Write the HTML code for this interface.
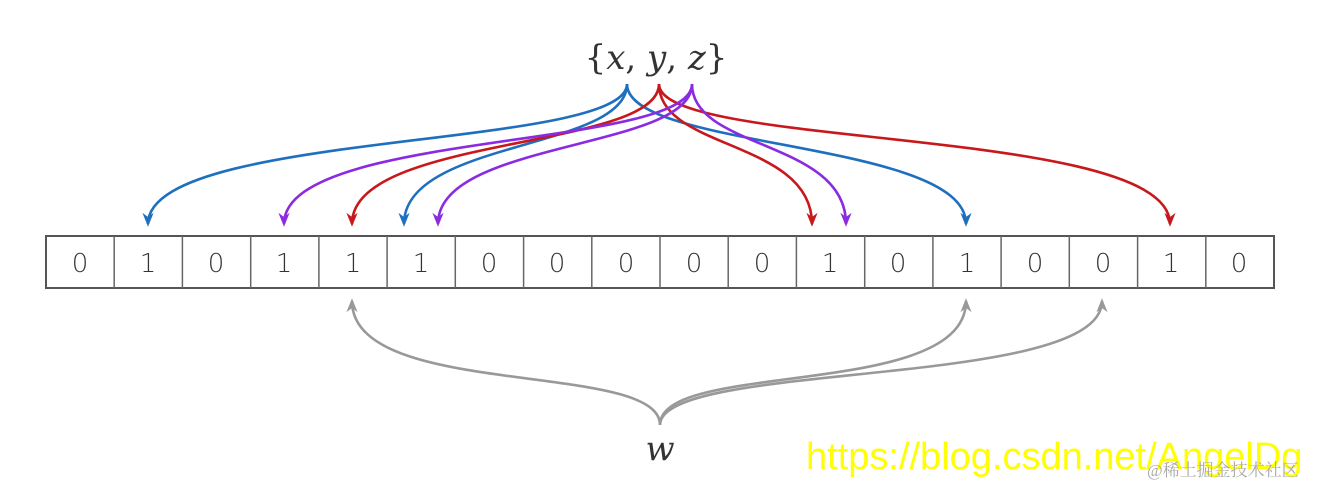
<!DOCTYPE html>
<html><head><style>
body{margin:0;background:#fff;width:1332px;height:487px;overflow:hidden;position:relative}
</style></head><body>
<svg width="1332" height="487" style="position:absolute;left:0;top:0">
<defs>
<marker id="b" markerWidth="14" markerHeight="12" refX="8" refY="4" orient="auto" markerUnits="userSpaceOnUse" viewBox="0 0 10 8"><path d="M0,0 L10,4 L0,8 L3,4 z" fill="#1f6fbf"/></marker>
<marker id="r" markerWidth="14" markerHeight="12" refX="8" refY="4" orient="auto" markerUnits="userSpaceOnUse" viewBox="0 0 10 8"><path d="M0,0 L10,4 L0,8 L3,4 z" fill="#c8181c"/></marker>
<marker id="p" markerWidth="14" markerHeight="12" refX="8" refY="4" orient="auto" markerUnits="userSpaceOnUse" viewBox="0 0 10 8"><path d="M0,0 L10,4 L0,8 L3,4 z" fill="#8a2be2"/></marker>
<marker id="g" markerWidth="14" markerHeight="12" refX="8" refY="4" orient="auto" markerUnits="userSpaceOnUse" viewBox="0 0 10 8"><path d="M0,0 L10,4 L0,8 L3,4 z" fill="#999"/></marker>
</defs>
<g fill="none" stroke-width="2.6">
<g stroke="#1f6fbf" marker-end="url(#b)">
<path d="M627,84 C627,150 148,130 148,224"/>
<path d="M627,84 C627,150 404,140 404,224"/>
<path d="M627,84 C627,150 966,140 966,224"/>
</g>
<g stroke="#c8181c" marker-end="url(#r)">
<path d="M659,84 C659,150 352,135 352,224"/>
<path d="M659,84 C659,150 812,140 812,224"/>
<path d="M659,84 C659,150 1170,125 1170,224"/>
</g>
<g stroke="#8a2be2" marker-end="url(#p)">
<path d="M692,84 C692,150 284,130 284,224"/>
<path d="M692,84 C692,150 438,140 438,224"/>
<path d="M692,84 C692,150 846,140 846,224"/>
</g>
<g stroke="#999" marker-end="url(#g)">
<path d="M660,425 C660,360 352,400 352,301"/>
<path d="M660,425 C660,360 966,400 966,301"/>
<path d="M660,425 C660,360 1102,390 1102,301"/>
</g>
</g>
<g stroke="#555" stroke-width="2" fill="#fff">
<rect x="46" y="236" width="1228" height="52"/>
</g>
<g stroke="#666" stroke-width="1.5">
<line x1="114.2" y1="236" x2="114.2" y2="288"/><line x1="182.4" y1="236" x2="182.4" y2="288"/><line x1="250.7" y1="236" x2="250.7" y2="288"/><line x1="318.9" y1="236" x2="318.9" y2="288"/><line x1="387.1" y1="236" x2="387.1" y2="288"/><line x1="455.3" y1="236" x2="455.3" y2="288"/><line x1="523.6" y1="236" x2="523.6" y2="288"/><line x1="591.8" y1="236" x2="591.8" y2="288"/><line x1="660" y1="236" x2="660" y2="288"/><line x1="728.2" y1="236" x2="728.2" y2="288"/><line x1="796.4" y1="236" x2="796.4" y2="288"/><line x1="864.7" y1="236" x2="864.7" y2="288"/><line x1="932.9" y1="236" x2="932.9" y2="288"/><line x1="1001.1" y1="236" x2="1001.1" y2="288"/><line x1="1069.3" y1="236" x2="1069.3" y2="288"/><line x1="1137.6" y1="236" x2="1137.6" y2="288"/><line x1="1205.8" y1="236" x2="1205.8" y2="288"/>
</g>
<g font-family="DejaVu Sans, sans-serif" font-size="26" font-weight="300" fill="#333" text-anchor="middle">
<text x="80" y="272">0</text><text x="148" y="272">1</text><text x="216" y="272">0</text><text x="284" y="272">1</text><text x="353" y="272">1</text><text x="421" y="272">1</text><text x="489" y="272">0</text><text x="557" y="272">0</text><text x="626" y="272">0</text><text x="694" y="272">0</text><text x="762" y="272">0</text><text x="830" y="272">1</text><text x="898" y="272">0</text><text x="967" y="272">1</text><text x="1035" y="272">0</text><text x="1103" y="272">0</text><text x="1171" y="272">1</text><text x="1239" y="272">0</text>
</g>
<text x="656" y="69" text-anchor="middle" font-family="DejaVu Serif, serif" font-size="34" fill="#333">{<tspan font-style="italic">x</tspan>, <tspan font-style="italic">y</tspan>, <tspan font-style="italic">z</tspan>}</text>
<text x="660" y="460" text-anchor="middle" font-family="DejaVu Serif, serif" font-style="italic" font-size="34" fill="#333">w</text>
<text x="806" y="469" font-family="Liberation Sans, sans-serif" font-size="38" fill="#ffff00">https://blog.csdn.net/AngelDg</text>
<text x="1147" y="476" font-family="Liberation Serif, 'Noto Serif CJK SC', serif" font-size="17" fill="#aaa">@稀土掘金技术社区</text>
</svg>
</body></html>
